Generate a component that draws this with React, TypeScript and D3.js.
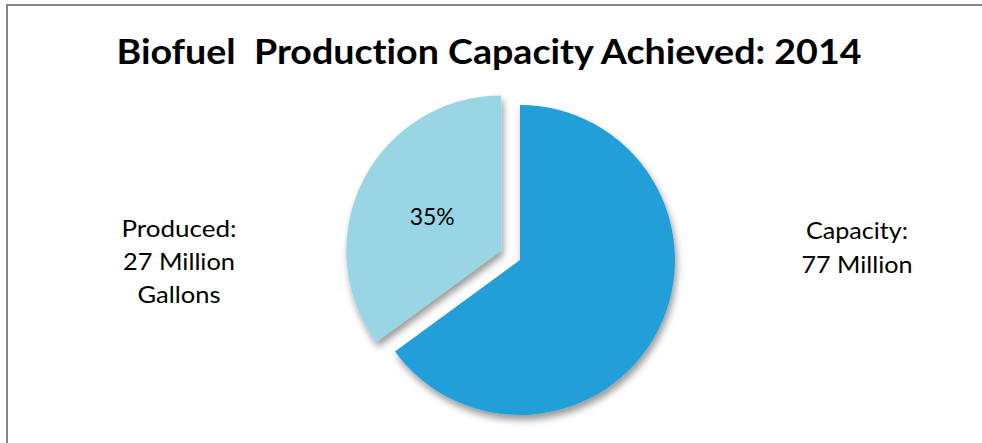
import React from "react";
import * as d3 from "d3";

const categories = ["Capacity (unused)", "Produced"];
const values = [50, 27];
const colors = ["#249FD8", "#98D6E6"];
const titleText = "Biofuel  Production Capacity Achieved: 2014";
const producedLabel = ["Produced:", "27 Million", "Gallons"];
const producedWidths = [115, 112, 83];
const capacityLabel = ["Capacity:", "77 Million"];
const capacityWidths = [102, 111];

const W = 982;
const H = 443;

export default function App() {
  const cx = 520;
  const cy = 260;
  const r = 155;
  const explode = 21;
  const pie = d3.pie<number>().sort(null).value((d) => d);
  const arcs = pie(values);
  const arcGen = d3.arc<d3.PieArcDatum<number>>().innerRadius(0).outerRadius(r);
  const total = d3.sum(values);
  const font = "Lato, 'Open Sans', sans-serif";
  const noLig = { fontVariantLigatures: "none", whiteSpace: "pre" } as React.CSSProperties;

  return (
    <svg
      width={W}
      height={H}
      style={{ position: "absolute", left: 0, top: 0, display: "block", background: "#fff" }}
    >
      <defs>
        <filter id="shadow" x="-20%" y="-20%" width="140%" height="140%">
          <feDropShadow dx="2" dy="5" stdDeviation="3.5" floodColor="#000" floodOpacity="0.4" />
        </filter>
      </defs>
      <rect x={0} y={0} width={W} height={H} fill="#fff" />
      <path d={`M7,${H} L7,5 L${W},5`} fill="none" stroke="#878787" strokeWidth={2} />
      <text
        x={489}
        y={64}
        textAnchor="middle"
        fontFamily={font}
        fontWeight="bold"
        fontSize={35}
        textLength={745}
        lengthAdjust="spacingAndGlyphs"
        fill="#000"
        style={noLig}
      >
        {titleText}
      </text>
      <g filter="url(#shadow)">
        {arcs.map((a, i) => {
          const mid = (a.startAngle + a.endAngle) / 2;
          const off = i === 1 ? explode : 0;
          const dx = Math.sin(mid) * off;
          const dy = -Math.cos(mid) * off;
          return (
            <path
              key={categories[i]}
              d={arcGen(a) || ""}
              transform={`translate(${cx + dx},${cy + dy})`}
              fill={colors[i]}
            />
          );
        })}
      </g>
      {arcs.map((a, i) => {
        if (i !== 1) return null;
        const mid = (a.startAngle + a.endAngle) / 2;
        const dx = Math.sin(mid) * explode;
        const dy = -Math.cos(mid) * explode;
        const lr = r * 0.5;
        const lx = cx + dx + Math.sin(mid) * lr;
        const ly = cy + dy - Math.cos(mid) * lr;
        return (
          <text
            key="pct"
            x={lx}
            y={ly + 10}
            textAnchor="middle"
            fontFamily={font}
            fontSize={24}
            textLength={45}
            lengthAdjust="spacingAndGlyphs"
            fill="#000"
            style={noLig}
          >
            {d3.format(".0%")(a.data / total)}
          </text>
        );
      })}
      {producedLabel.map((t, i) => (
        <text
          key={t}
          x={179}
          y={237 + i * 33}
          textAnchor="middle"
          fontFamily={font}
          fontSize={24}
          textLength={producedWidths[i]}
          lengthAdjust="spacingAndGlyphs"
          fill="#000"
          style={noLig}
        >
          {t}
        </text>
      ))}
      {capacityLabel.map((t, i) => (
        <text
          key={t}
          x={857}
          y={239 + i * 34}
          textAnchor="middle"
          fontFamily={font}
          fontSize={24}
          textLength={capacityWidths[i]}
          lengthAdjust="spacingAndGlyphs"
          fill="#000"
          style={noLig}
        >
          {t}
        </text>
      ))}
    </svg>
  );
}
